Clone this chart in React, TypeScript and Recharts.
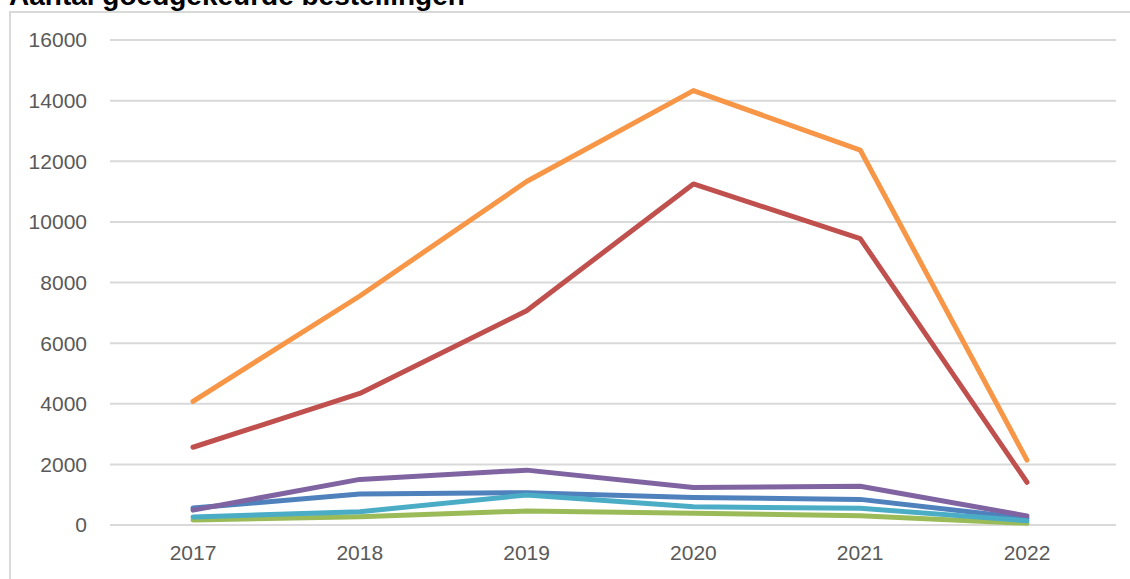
import { CartesianGrid, Line, LineChart, XAxis, YAxis } from "recharts";

const years = ["2017", "2018", "2019", "2020", "2021", "2022"];
const yTicks = [0, 2000, 4000, 6000, 8000, 10000, 12000, 14000, 16000];

const reeks1 = [560, 1020, 1065, 910, 845, 220];
const reeks2 = [2565, 4340, 7070, 11250, 9450, 1410];
const reeks3 = [165, 275, 460, 390, 305, 55];
const reeks4 = [490, 1505, 1810, 1240, 1280, 300];
const reeks5 = [265, 440, 990, 600, 550, 140];
const reeks6 = [4080, 7555, 11330, 14330, 12370, 2140];

const series = [
  { key: "reeks1", values: reeks1, color: "#4F81BD" },
  { key: "reeks2", values: reeks2, color: "#C0504D" },
  { key: "reeks3", values: reeks3, color: "#9BBB59" },
  { key: "reeks4", values: reeks4, color: "#8064A2" },
  { key: "reeks5", values: reeks5, color: "#4BACC6" },
  { key: "reeks6", values: reeks6, color: "#F79646" },
];

const data = years.map((year, i) => {
  const row: Record<string, string | number> = { year };
  series.forEach((s) => {
    row[s.key] = s.values[i];
  });
  return row;
});

const tickStyle = { fontSize: 21, fill: "#595959", fontFamily: "'Liberation Sans', Arial, sans-serif" };

export default function App() {
  return (
    <div style={{ position: "absolute", left: 0, top: 0, width: 1130, height: 579, overflow: "hidden", background: "#fff" }}>
      <div
        style={{
          position: "absolute",
          left: 9,
          top: 11,
          width: 1200,
          height: 700,
          borderLeft: "2px solid #d9d9d9",
          borderTop: "2px solid #d9d9d9",
        }}
      />
      <div
        style={{
          position: "absolute",
          left: 9,
          top: -18,
          lineHeight: "28px",
          fontSize: 28,
          fontWeight: "bold",
          fontFamily: "'Liberation Sans', Arial, sans-serif",
          color: "#000",
          whiteSpace: "nowrap",
        }}
      >
        Aantal goedgekeurde bestellingen
      </div>
      <div style={{ position: "absolute", left: 0, top: 0 }}>
        <LineChart width={1130} height={579} data={data} margin={{ top: 40, right: 14, left: 10, bottom: 0 }}>
          <CartesianGrid vertical={false} stroke="#d9d9d9" strokeWidth={2} />
          <XAxis
            dataKey="year"
            axisLine={false}
            tickLine={false}
            tickSize={0}
            tickMargin={20}
            padding={{ left: 83, right: 89 }}
            tick={tickStyle}
            height={54}
          />
          <YAxis
            domain={[0, 16000]}
            ticks={yTicks}
            axisLine={false}
            tickLine={false}
            tickSize={0}
            tickMargin={23}
            width={100}
            tick={tickStyle}
          />
          {series.map((s) => (
            <Line
              key={s.key}
              dataKey={s.key}
              stroke={s.color}
              strokeWidth={5}
              strokeLinecap="round"
              strokeLinejoin="round"
              dot={false}
              activeDot={false}
              type="linear"
              isAnimationActive={false}
            />
          ))}
        </LineChart>
      </div>
    </div>
  );
}
